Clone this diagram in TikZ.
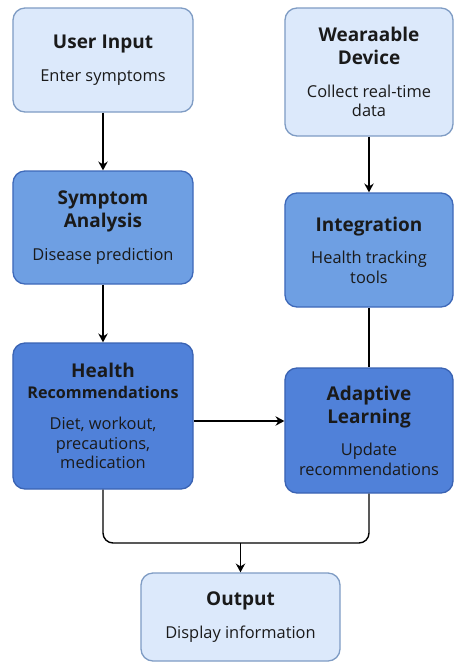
\documentclass[tikz,border=0pt]{standalone}
\usepackage{fontspec}
\setmainfont{Open Sans}
\usepackage{xcolor}
\usetikzlibrary{arrows.meta}
\definecolor{lightfill}{HTML}{DCE9FB}
\definecolor{lightline}{HTML}{7F9CC4}
\definecolor{midfill}{HTML}{6E9FE3}
\definecolor{midline}{HTML}{3E69B9}
\definecolor{darkfill}{HTML}{5081D9}
\definecolor{darkline}{HTML}{3A63B3}
\definecolor{inkblack}{HTML}{1A1A1A}
\newcommand{\boxtitle}[1]{{\fontsize{16.2}{19}\selectfont\bfseries #1}}
\newcommand{\boxsmalltitle}[1]{{\fontsize{13.8}{17}\selectfont\bfseries #1}}
\newcommand{\boxsub}[1]{{\fontsize{14}{17}\selectfont #1}}
\tikzset{
    tnode/.style = {align=center, inner sep=0pt, text centered, rounded corners=0.36cm, line width=1.1pt, text=inkblack, font=\fontsize{14}{16.6}\selectfont},
    light_node/.style = {tnode, fill=lightfill, draw=lightline},
    mid_node/.style = {tnode, fill=midfill, draw=midline},
    dark_node/.style = {tnode, fill=darkfill, draw=darkline},
    left_col/.style = {minimum width=5.4cm},
    right_col/.style = {minimum width=5.04cm},
    link/.style = {draw=black, line width=1.2pt}
}

\begin{document}
\begin{tikzpicture}
            [->,>={Stealth[length=7.5pt,width=8pt]}, x=0.03cm, y=-0.03cm]

            \useasboundingbox [fill=white] (0,0) rectangle (454,662);

            % left column
            \node [light_node, left_col, minimum height=3.12cm] (input) at (103,60)
                {\boxtitle{User Input}\\[11.5pt]\boxsub{Enter symptoms}};
            \node [mid_node, left_col, minimum height=3.39cm] (symptom) at (103,227.5)
                {\boxtitle{Symptom}\\[3pt]\boxtitle{Analysis}\\[11pt]\boxsub{Disease prediction}};
            \node [dark_node, left_col, minimum height=4.38cm] (health) at (103,416)
                {\boxtitle{Health}\\[1.3pt]\boxsmalltitle{Recommendations}\\[10pt]\boxsub{Diet, workout,}\\\boxsub{precautions,}\\\boxsub{medication}};

            % right column
            \node [light_node, right_col, minimum height=3.84cm] (wearable) at (369,72)
                {\boxtitle{Wearaable}\\[3pt]\boxtitle{Device}\\[11pt]\boxsub{Collect real-time}\\\boxsub{data}};
            \node [mid_node, right_col, minimum height=3.42cm] (integration) at (369,250)
                {\boxtitle{Integration}\\[11pt]\boxsub{Health tracking}\\\boxsub{tools}};
            \node [dark_node, right_col, minimum height=3.75cm] (adaptive) at (369,430.5)
                {\boxtitle{Adaptive}\\[3pt]\boxtitle{Learning}\\[11pt]\boxsub{Update}\\\boxsub{recommendations}};

            % output
            \node [light_node, minimum width=5.97cm, minimum height=2.64cm] (output) at (240.5,617)
                {\boxtitle{Output}\\[11.5pt]\boxsub{Display information}};

            % connectors
            \draw [link] (input) -- (symptom);
            \draw [link] (symptom) -- (health);
            \draw [link] (wearable) -- (integration);
            \draw [link, -] (integration) -- (adaptive);
            \draw [link] ([yshift=-0.15cm]health.east) -- ([yshift=-0.15cm]health.east -| adaptive.west);
            \coordinate (merge) at (240.5,543);
            \draw [link, -, rounded corners=0.3cm] (health.south) |- (merge) -| (adaptive.south);
            \draw [link] (merge) -- (output);
\end{tikzpicture}
\end{document}
